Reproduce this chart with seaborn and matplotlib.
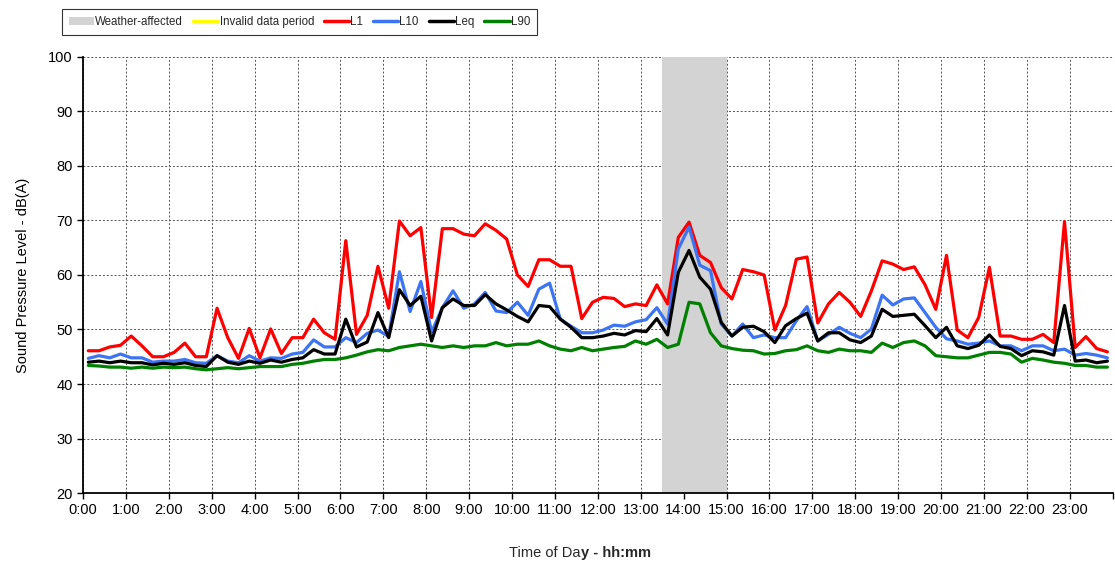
import numpy as np
import pandas as pd
import matplotlib
matplotlib.use("Agg")
import matplotlib.pyplot as plt
import seaborn as sns
from matplotlib.lines import Line2D
from matplotlib.patches import Patch

# 15-minute intervals, values (dB(A))
L1 = [46.1, 46.1, 46.8, 47.1, 48.8, 47.0, 45.0, 45.0, 45.8, 47.5, 45.0, 45.0, 53.9, 48.5, 44.7, 50.2,
      44.8, 50.1, 45.6, 48.5, 48.5, 51.9, 49.4, 48.2, 66.3, 49.1, 52.6, 61.6, 53.9, 69.9, 67.2, 68.7,
      52.2, 68.5, 68.5, 67.5, 67.2, 69.4, 68.2, 66.6, 60.0, 57.9, 62.8, 62.8, 61.6, 61.6, 52.0, 55.0,
      55.9, 55.7, 54.2, 54.7, 54.4, 58.2, 54.7, 66.9, 69.7, 63.6, 62.3, 57.7, 55.6, 61.0, 60.6, 60.0,
      49.9, 54.4, 62.9, 63.3, 51.2, 54.7, 56.8, 55.0, 52.4, 57.1, 62.6, 62.0, 61.0, 61.5, 58.2, 53.7,
      63.6, 49.9, 48.5, 52.2, 61.4, 48.8, 48.8, 48.2, 48.2, 49.1, 47.6, 69.8, 46.7, 48.7, 46.5, 45.9]
L10 = [44.7, 45.2, 44.8, 45.5, 44.8, 44.8, 44.0, 44.2, 44.2, 44.5, 43.9, 43.8, 45.2, 44.2, 43.9, 45.2,
       44.2, 44.8, 44.7, 45.5, 45.8, 48.1, 46.8, 46.8, 48.5, 47.6, 49.3, 49.9, 48.7, 60.6, 53.3, 58.8,
       49.5, 54.0, 57.1, 53.9, 54.7, 56.8, 53.4, 53.1, 55.0, 52.6, 57.4, 58.5, 51.9, 50.6, 49.4, 49.4,
       49.9, 50.8, 50.6, 51.4, 51.8, 54.0, 51.0, 64.8, 68.8, 61.8, 60.8, 51.0, 48.8, 51.0, 48.5, 49.0,
       48.5, 48.5, 51.6, 54.2, 47.9, 49.1, 50.4, 49.3, 48.5, 50.1, 56.3, 54.5, 55.6, 55.8, 53.1, 50.4,
       48.3, 47.9, 47.3, 47.5, 47.9, 47.0, 47.0, 46.1, 47.0, 47.0, 46.1, 46.4, 45.3, 45.6, 45.3, 44.8]
Leq = [44.0, 44.2, 43.9, 44.2, 43.9, 43.9, 43.5, 43.8, 43.6, 43.9, 43.4, 43.2, 45.2, 44.0, 43.6, 44.2,
       43.8, 44.4, 44.0, 44.5, 44.8, 46.3, 45.5, 45.5, 51.9, 46.8, 47.7, 53.1, 48.5, 57.3, 54.4, 56.1,
       47.9, 54.0, 55.6, 54.4, 54.4, 56.4, 54.7, 53.6, 52.4, 51.4, 54.4, 54.2, 51.9, 50.4, 48.5, 48.5,
       48.8, 49.3, 49.0, 49.8, 49.6, 52.0, 49.0, 60.5, 64.5, 59.6, 57.4, 51.3, 48.8, 50.4, 50.6, 49.6,
       47.6, 50.7, 52.0, 53.0, 47.9, 49.4, 49.4, 48.1, 47.6, 48.8, 53.7, 52.4, 52.6, 52.8, 50.7, 48.5,
       50.4, 47.0, 46.5, 47.1, 49.0, 46.9, 46.5, 45.2, 46.1, 45.9, 45.3, 54.4, 44.2, 44.4, 43.9, 44.2]
L90 = [43.4, 43.3, 43.1, 43.1, 42.9, 43.1, 42.9, 43.1, 43.0, 43.1, 42.8, 42.6, 42.8, 43.0, 42.8, 43.0,
       43.2, 43.2, 43.2, 43.6, 43.8, 44.2, 44.5, 44.5, 44.8, 45.3, 45.9, 46.3, 46.1, 46.7, 47.0, 47.3,
       47.0, 46.7, 47.0, 46.7, 47.0, 47.0, 47.6, 47.0, 47.3, 47.3, 47.9, 47.0, 46.4, 46.1, 46.7, 46.1,
       46.4, 46.7, 46.9, 47.9, 47.3, 48.2, 46.7, 47.3, 55.0, 54.7, 49.4, 47.0, 46.5, 46.2, 46.1, 45.5,
       45.6, 46.1, 46.3, 47.0, 46.1, 45.8, 46.4, 46.1, 46.1, 45.8, 47.5, 46.7, 47.6, 47.9, 47.0, 45.2,
       45.0, 44.8, 44.8, 45.3, 45.8, 45.8, 45.5, 44.0, 44.7, 44.4, 44.0, 43.8, 43.4, 43.4, 43.1, 43.1]

series_names = ["L1", "L10", "Leq", "L90"]
series_colors = ["#ff0000", "#3c74f2", "#000000", "#008000"]
weather_start, weather_end = 13.5, 15.0
hour_labels = ["{}:00".format(h) for h in range(24)]

# interval mid-points in hours
hours = 0.125 + 0.25 * np.arange(len(L1))
df = pd.DataFrame({"hour": hours, "L1": L1, "L10": L10, "Leq": Leq, "L90": L90})
long_df = df.melt(id_vars="hour", var_name="series", value_name="level")

sns.set_theme(style="white")
plt.rcParams["font.family"] = ["Liberation Sans", "DejaVu Sans"]

fig = plt.figure(figsize=(11.15, 5.67), dpi=100)
ax = fig.add_axes([0.0744, 0.1305, 0.9236, 0.769])

ax.axvspan(weather_start, weather_end, color="#d3d3d3", zorder=1, lw=0)

sns.lineplot(data=long_df, x="hour", y="level", hue="series", hue_order=series_names,
             palette=dict(zip(series_names, series_colors)), linewidth=2.3,
             legend=False, ax=ax, zorder=3)

ax.set_xlim(0, 24)
ax.set_ylim(20, 100)
ax.set_xticks(range(25))
ax.set_xticklabels(hour_labels + [""])
ax.set_yticks(range(20, 101, 10))
ax.tick_params(axis="both", labelsize=10.5, colors="black", direction="out",
               length=4, width=1, bottom=True, left=True)
ax.grid(True, color="#555555", linestyle=(0, (2, 2)), linewidth=0.7, zorder=0)
ax.set_axisbelow(True)
for s in ["top", "right"]:
    ax.spines[s].set_visible(False)
for s in ["left", "bottom"]:
    ax.spines[s].set_color("black")
    ax.spines[s].set_linewidth(1.3)

ax.set_xlabel("")
ax.set_ylabel("Sound Pressure Level - dB(A)", fontsize=10.5, color="black", labelpad=13)

fig.text(0.521, 0.012, "Time of Da", ha="right", va="bottom", fontsize=10.5)
fig.text(0.521, 0.012, "y - hh:mm", ha="left", va="bottom", fontsize=10.5, fontweight="bold")

handles = [Patch(facecolor="#d3d3d3", edgecolor="none", label="Weather-affected"),
           Line2D([], [], color="#ffff00", lw=2.5, label="Invalid data period")]
for name, col in zip(series_names, series_colors):
    handles.append(Line2D([], [], color=col, lw=2.5, label=name))
leg = fig.legend(handles=handles, loc="lower left",
                 bbox_to_anchor=(62 / 1115, 1 - 35 / 567, 475 / 1115, 30 / 567),
                 mode="expand", ncol=6, frameon=True, fancybox=False, edgecolor="black",
                 handlelength=2.2, handletextpad=0.1, columnspacing=0.5, borderpad=0.6,
                 borderaxespad=0, prop={"size": 8.3})
leg.get_frame().set_linewidth(0.8)

fig.savefig("out.png", dpi=100, facecolor="white")
